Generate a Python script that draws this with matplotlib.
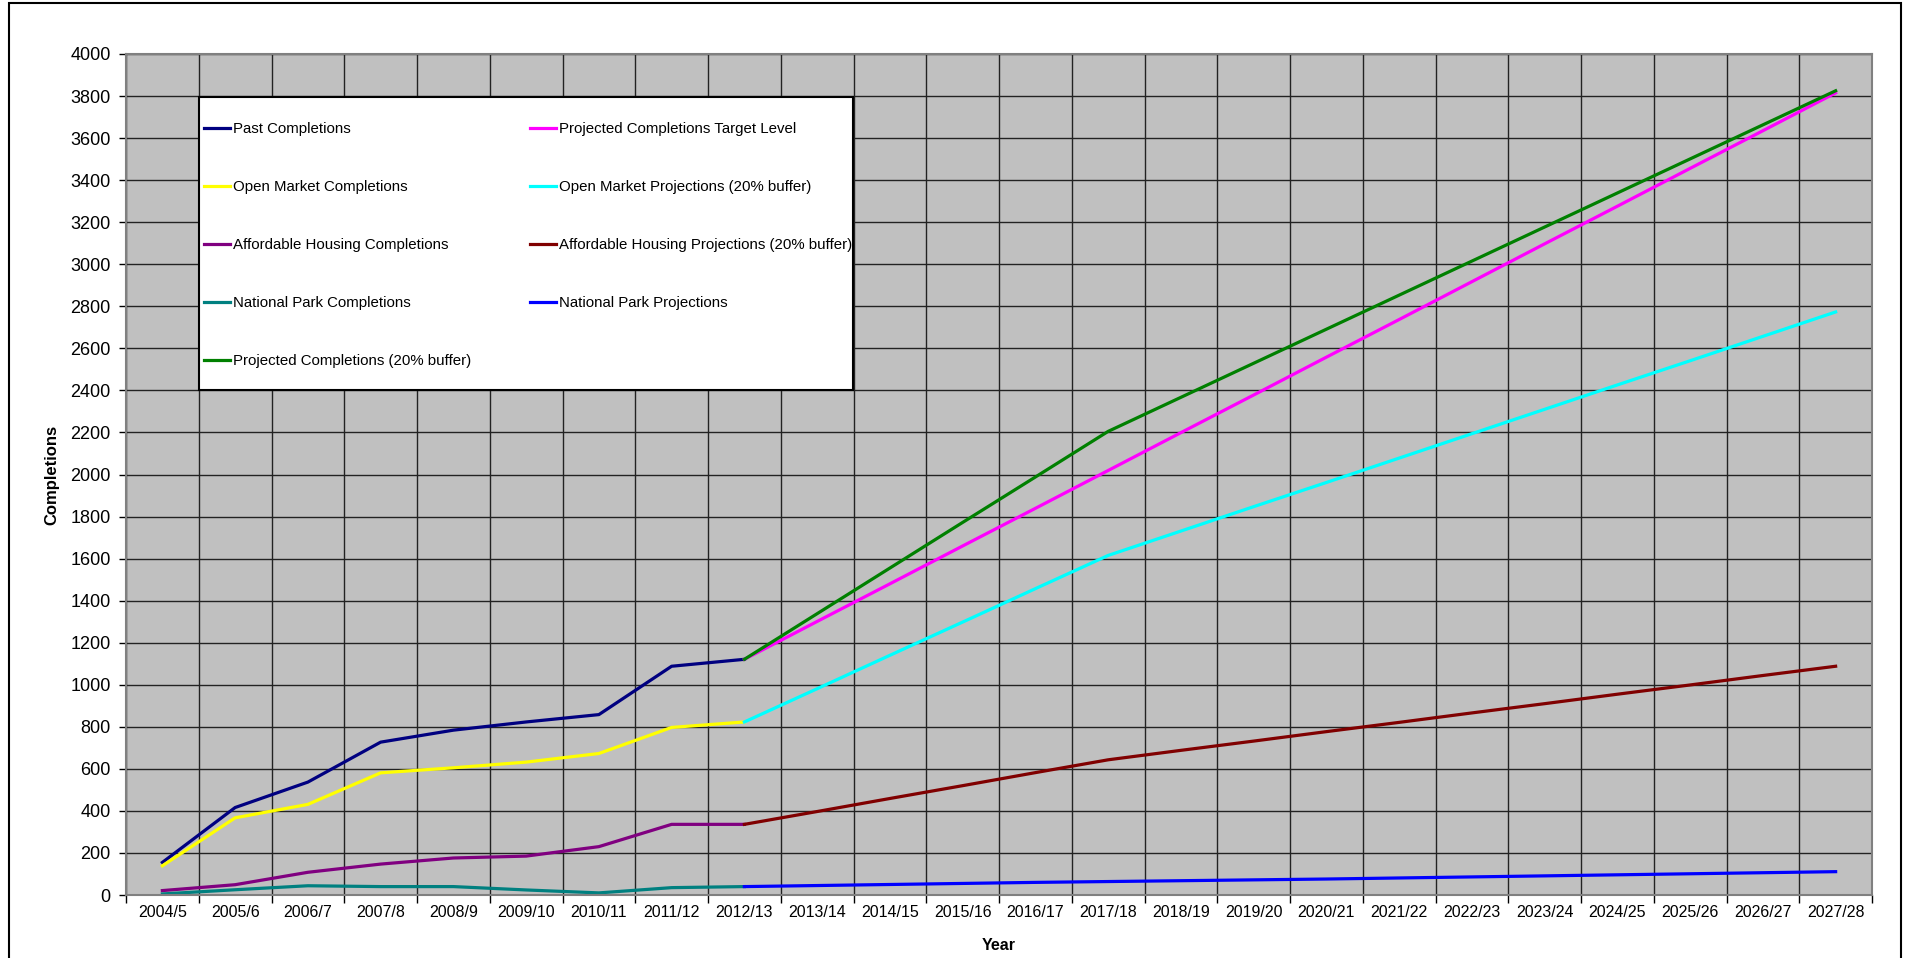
import matplotlib.pyplot as plt
from matplotlib.patches import Rectangle

plt.rcParams['font.family'] = ['Liberation Sans', 'DejaVu Sans']

years = ['2004/5', '2005/6', '2006/7', '2007/8', '2008/9', '2009/10', '2010/11',
         '2011/12', '2012/13', '2013/14', '2014/15', '2015/16', '2016/17', '2017/18',
         '2018/19', '2019/20', '2020/21', '2021/22', '2022/23', '2023/24', '2024/25',
         '2025/26', '2026/27', '2027/28']

# past completions, 2004/5 to 2012/13
past = [155, 416, 537, 727, 784, 823, 858, 1088, 1121]
open_market = [139, 367, 431, 581, 605, 632, 673, 797, 823]
affordable = [21, 49, 108, 147, 176, 185, 230, 336, 336]
national_park = [5, 25, 44, 40, 40, 24, 10, 35, 40]

# projections, 2012/13 to 2027/28
proj_buffer = [1121, 1338, 1555, 1772, 1988, 2205, 2367, 2529, 2691, 2853,
               3015, 3177, 3339, 3501, 3663, 3825]
proj_target = [1121, 1301, 1480, 1660, 1839, 2019, 2199, 2378, 2558, 2737,
               2917, 3097, 3276, 3456, 3635, 3815]
om_proj = [823, 981, 1140, 1298, 1457, 1615, 1731, 1847, 1962, 2078,
           2194, 2310, 2426, 2541, 2657, 2773]
ah_proj = [336, 397, 459, 520, 582, 643, 688, 732, 777, 821,
           866, 910, 955, 999, 1044, 1088]
np_proj = [40, 45, 50, 55, 60, 64, 68, 72, 76, 81,
           86, 91, 96, 101, 106, 111]

x_past = list(range(len(past)))
x_proj = list(range(len(past) - 1, len(years)))

W, H = 1907, 958
fig = plt.figure(figsize=(W / 100, H / 100), dpi=100)
ax = fig.add_axes([126 / W, 63 / H, (1872 - 126) / W, (895 - 54) / H])
ax.set_facecolor('#C0C0C0')

lw = 2.3
l1, = ax.plot(x_past, past, color='#000080', lw=lw, label='Past Completions')
l2, = ax.plot(x_past, open_market, color='#FFFF00', lw=lw, label='Open Market Completions')
l3, = ax.plot(x_past, affordable, color='#800080', lw=lw, label='Affordable Housing Completions')
l4, = ax.plot(x_past, national_park, color='#008080', lw=lw, label='National Park Completions')
l9, = ax.plot(x_proj, np_proj, color='#0000FF', lw=lw, label='National Park Projections')
l8, = ax.plot(x_proj, ah_proj, color='#800000', lw=lw, label='Affordable Housing Projections (20% buffer)')
l7, = ax.plot(x_proj, om_proj, color='#00FFFF', lw=lw, label='Open Market Projections (20% buffer)')
l6, = ax.plot(x_proj, proj_target, color='#FF00FF', lw=lw, label='Projected Completions Target Level')
l5, = ax.plot(x_proj, proj_buffer, color='#008000', lw=lw, label='Projected Completions (20% buffer)')

ax.set_xlim(-0.5, len(years) - 0.5)
ax.set_ylim(0, 4000)
ax.set_yticks(range(0, 4001, 200))
ax.set_xticks(range(len(years)))
ax.set_xticklabels(years, fontsize=11.5)
ax.tick_params(axis='y', labelsize=13, length=5, width=1, color='black', pad=6)
ax.tick_params(axis='x', length=0, pad=7)
ax.set_xticks([i - 0.5 for i in range(len(years) + 1)], minor=True)
ax.tick_params(axis='x', which='minor', length=6, width=1, color='black')

ax.grid(axis='y', color='#222222', lw=1)
ax.grid(axis='x', which='minor', color='#222222', lw=1)
ax.grid(axis='x', which='major', visible=False)
ax.set_axisbelow(True)
for s in ax.spines.values():
    s.set_color('#808080')
    s.set_linewidth(1.5)

ax.set_ylabel('Completions', fontsize=12, fontweight='bold', labelpad=8)
ax.set_xlabel('Year', fontsize=11.5, fontweight='bold', labelpad=13.5)

# legend box drawn separately, entries placed inside it
box = Rectangle((199 / W, 1 - 390 / H), (853 - 199) / W, (390 - 97) / H,
                transform=fig.transFigure, facecolor='white',
                edgecolor='black', lw=1.5, zorder=4)
fig.patches.append(box)

handles = [l1, l2, l3, l4, l5, l6, l7, l8, l9]
leg = fig.legend(handles, [h.get_label() for h in handles],
                 ncol=2, loc='upper left', mode='expand',
                 bbox_to_anchor=(204 / W, 1 - 384 / H, (852 - 204) / W, (384 - 122) / H),
                 fontsize=10.8, frameon=False,
                 handlelength=1.75, handletextpad=0.2, labelspacing=2.93,
                 borderpad=0, borderaxespad=0)
leg.set_zorder(5)

fig.patches.append(Rectangle((9 / W, -0.01), (1901 - 9) / W, 1.01 - 3 / H,
                             transform=fig.transFigure, fill=False,
                             edgecolor='black', lw=1.5))

fig.savefig('out.png', dpi=100)
